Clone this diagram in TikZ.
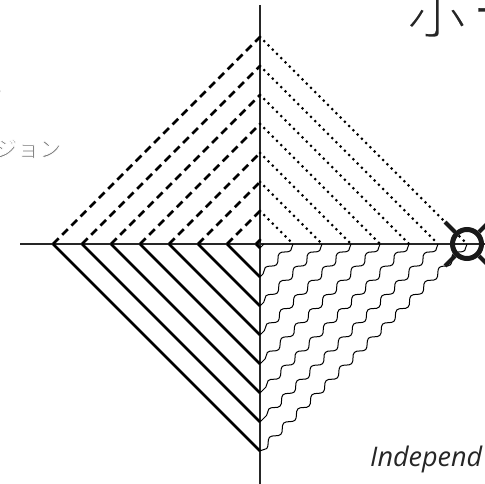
\documentclass[tikz,border=0pt]{standalone}
\usepackage{fontspec}
\newfontfamily\jpfont{Noto Sans CJK JP}
\newfontfamily\labelfont{Open Sans}
\usetikzlibrary{decorations.pathmorphing}
\newcommand\thinstroke[2]{\special{pdf:literal direct 2 Tr #1 w 1 1 1 RG}#2\special{pdf:literal direct 0 Tr}}
\begin{document}
\begin{tikzpicture}[x=1pt,y=-1pt,
  axisline/.style={line width=2.8pt, draw=black!85},
  dashline/.style={line width=2.7pt, dash pattern=on 8pt off 5pt},
  dotline/.style={line width=3pt, line cap=round, dash pattern=on 0pt off 6pt},
  solidline/.style={line width=2.7pt},
  waveline/.style={line width=1pt, decorate, decoration={snake, amplitude=3pt, segment length=20pt}},
  spoke/.style={line width=4pt, draw=black!90},
]
\useasboundingbox (0,0) rectangle (485,484);
\clip (0,0) rectangle (485,484);
\coordinate (axT) at (260,5);
\coordinate (axB) at (260,490);
\coordinate (axL) at (20,244);
\coordinate (axR) at (490,244);
\draw[axisline] (axT) -- (axB);
\draw[axisline] (axL) -- (axR);
\foreach \k in {0,...,7} {
  \pgfmathsetmacro\d{4+29*\k}
  \coordinate (L\k) at (260-\d,244);
  \coordinate (T\k) at (260,244-\d);
  \coordinate (R\k) at (260+\d,244);
  \coordinate (B\k) at (260,244+\d);
  \draw[dashline] (L\k) -- (T\k);
  \draw[dotline] (T\k) -- (R\k);
  \draw[waveline] (R\k) -- (B\k);
  \draw[solidline] (B\k) -- (L\k);
}
\node[circle, draw=black!90, line width=5pt, minimum size=29pt, inner sep=0pt] (ring) at (467,244) {};
\coordinate (sUL1) at (455,232); \coordinate (sUL2) at (445,222);
\coordinate (sLL1) at (455,256); \coordinate (sLL2) at (445,266);
\coordinate (sUR1) at (479,232); \coordinate (sUR2) at (489,222);
\coordinate (sLR1) at (479,256); \coordinate (sLR2) at (489,266);
\draw[spoke] (sUL1) -- (sUL2);
\draw[spoke] (sLL1) -- (sLL2);
\draw[spoke] (sUR1) -- (sUR2);
\draw[spoke] (sLR1) -- (sLR2);
\node[anchor=base west, inner sep=0pt, text=black!85, font=\jpfont\fontsize{68}{68}\selectfont] (title) at (402,36) {\thinstroke{2.6}{ホー}};
\node[anchor=base west, inner sep=0pt, text=black!55, font=\jpfont\fontsize{22}{22}\selectfont] (sub) at (-5,157) {\thinstroke{0.8}{ジョン}};
\node[anchor=base east, inner sep=0pt, text=black, font=\jpfont\fontsize{20}{20}\selectfont] (frag) at (3,93) {た};
\node[anchor=base west, inner sep=0pt, text=black!85, font=\labelfont\itshape\fontsize{27}{27}\selectfont] (indep) at (370,466) {Independ};
\end{tikzpicture}
\end{document}
